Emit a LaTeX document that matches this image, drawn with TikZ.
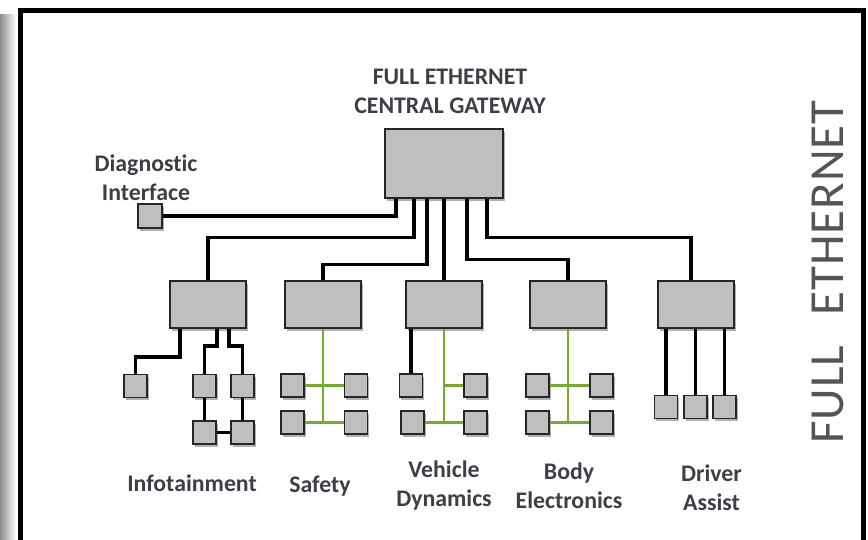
\documentclass[tikz,border=0pt]{standalone}
\usepackage{fontspec}
\setmainfont{Carlito}[Ligatures=NoCommon]
\usetikzlibrary{shadows}
\definecolor{boxgray}{HTML}{BFBFBF}
\definecolor{edge}{HTML}{262626}
\definecolor{labeltext}{RGB}{60,64,70}
\definecolor{ethgreen}{RGB}{118,172,44}
\definecolor{sidetext}{HTML}{555555}

\begin{document}
\begin{tikzpicture}[x=1pt,y=-1pt,
  unit/.style={draw=edge, line width=1.1pt, fill=boxgray, inner sep=0pt,
    drop shadow={shadow xshift=1.5pt, shadow yshift=-2.5pt, opacity=0.3, fill=black}},
  gatewaybox/.style={unit, minimum width=118pt, minimum height=69pt},
  domainbox/.style={unit, minimum width=76pt, minimum height=47pt},
  ecu/.style={unit, minimum width=23pt, minimum height=23pt},
  wire/.style={line width=3.1pt, black},
  bus/.style={line width=2.9pt, ethgreen},
  lbl/.style={font=\fontsize{23.8}{29}\selectfont\bfseries, text=labeltext, align=center, inner sep=0pt},
]
\useasboundingbox (0,0) rectangle (868,539);

% outer frame and its shadow strip
\begin{scope}
  \clip (0,0) rectangle (868,539);
  \shade[left color=black!45, right color=white] (0,14) rectangle (16,560);
  \draw[line width=5pt] (20,10) rectangle (863,600);
\end{scope}

% gateway and diagnostic port
\node[gatewaybox] (gw) at (444,163.5) {};
\node[ecu, minimum width=24pt, minimum height=24pt] (diag) at (150,216) {};

% domain controllers
\node[domainbox] (info)   at (208,304.5) {};
\node[domainbox] (safety) at (323,304.5) {};
\node[domainbox] (vd)     at (444,304.5) {};
\node[domainbox] (body)   at (568,304.5) {};
\node[domainbox] (driver) at (696,304.5) {};

% infotainment ECUs
\node[ecu] (i1) at (135.5,386) {};
\node[ecu] (i2) at (204.5,386) {};
\node[ecu] (i3) at (242.5,386) {};
\node[ecu] (i4) at (204.5,432.5) {};
\node[ecu] (i5) at (242.5,432.5) {};

% safety ECUs
\node[ecu] (s1) at (292.5,385.5) {};
\node[ecu] (s2) at (356,385.5) {};
\node[ecu] (s3) at (292.5,422.5) {};
\node[ecu] (s4) at (356,422.5) {};

% vehicle dynamics ECUs
\node[ecu] (v1) at (411,385.5) {};
\node[ecu] (v2) at (475.5,385.5) {};
\node[ecu] (v3) at (412.5,422.5) {};
\node[ecu] (v4) at (475.5,422.5) {};

% body electronics ECUs
\node[ecu] (b1) at (537.5,385.5) {};
\node[ecu] (b2) at (601.5,385.5) {};
\node[ecu] (b3) at (537.5,422.5) {};
\node[ecu] (b4) at (601.5,422.5) {};

% driver assist ECUs
\node[ecu] (d1) at (666,407) {};
\node[ecu] (d2) at (695.5,407) {};
\node[ecu] (d3) at (724.5,407) {};

% gateway links
\draw[wire] ([xshift=-48pt]gw.south) |- (diag.east);
\draw[wire] ([xshift=-30pt]gw.south) |- ([yshift=43pt]info.north) -- (info.north);
\draw[wire] ([xshift=-17pt]gw.south) |- ([yshift=16pt]safety.north) -- (safety.north);
\draw[wire] (gw.south) -- (vd.north);
\draw[wire] ([xshift=23pt]gw.south) |- ([yshift=21pt]body.north) -- (body.north);
\draw[wire] ([xshift=43pt]gw.south) |- ([xshift=-5pt,yshift=43pt]driver.north) -- ([xshift=-5pt]driver.north);

% infotainment links
\draw[wire] ([xshift=-28pt]info.south) |- ([yshift=17pt]i1.north) -- (i1.north);
\draw[wire] ([xshift=9pt]info.south) |- ([yshift=28pt]i2.north) -- (i2.north);
\draw[wire] ([xshift=21pt]info.south) |- ([yshift=28pt]i3.north) -- (i3.north);
\draw[wire] (i2.south) -- (i4.north);
\draw[wire] (i3.south) -- (i5.north);
\draw[wire] (i4.east) -- (i5.west);

% safety bus
\draw[bus] (safety.south) -- (safety.south |- s3.east);
\draw[bus] (s1.east) -- (s2.west);
\draw[bus] (s3.east) -- (s4.west);

% vehicle dynamics links
\draw[wire] ([xshift=-33pt]vd.south) -- (v1.north);
\draw[bus] (vd.south) -- (vd.south |- v4.west);
\draw[bus] (vd.south |- v2.west) -- (v2.west);
\draw[bus] (v3.east) -- (v4.west);

% body electronics bus
\draw[bus] (body.south) -- (body.south |- b3.east);
\draw[bus] (b1.east) -- (b2.west);
\draw[bus] (b3.east) -- (b4.west);

% driver assist links
\draw[wire] (d1.north |- driver.south) -- (d1.north);
\draw[wire] (d2.north |- driver.south) -- (d2.north);
\draw[wire] (d3.north |- driver.south) -- (d3.north);

% labels
\node[lbl] (gwlbl)     at (450,91.5)    {FULL ETHERNET\\CENTRAL GATEWAY};
\node[lbl] (diaglbl)   at (146,177.5)   {Diagnostic\\Interface};
\node[lbl] (infolbl)   at (192,483.5)   {Infotainment};
\node[lbl] (safetylbl) at (320,486)     {Safety};
\node[lbl] (vdlbl)     at (444,486)     {Vehicle\\Dynamics};
\node[lbl] (bodylbl)   at (569,486)     {Body\\Electronics};
\node[lbl] (drvlbl)    at (711.5,488)   {Driver\\Assist};

\node[font=\fontsize{49}{49}\selectfont\addfontfeature{LetterSpace=2}, text=sidetext, rotate=90, inner sep=0pt]
  (side) at (828,272) {FULL\hspace{30pt}ETHERNET};
\end{tikzpicture}
\end{document}
